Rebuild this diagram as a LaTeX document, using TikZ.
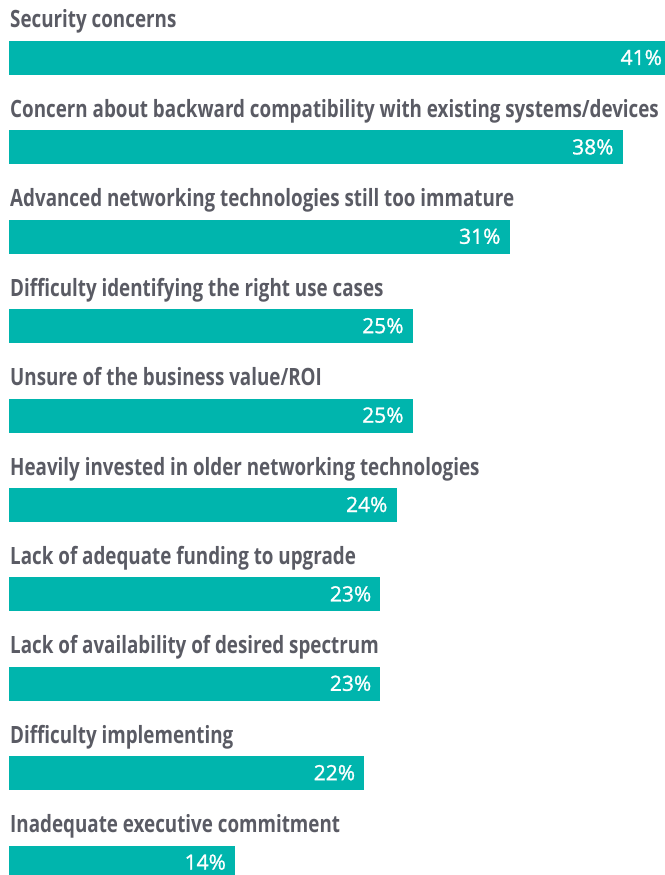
\documentclass[tikz,border=0pt]{standalone}
\usepackage{fontspec}
\setmainfont{Open Sans}
\newfontfamily\labelfont[FakeStretch=0.79]{Open Sans}
\newfontfamily\valuefont[FakeBold=1.2]{Open Sans}
\usetikzlibrary{positioning}
\definecolor{bar_teal}{RGB}{0,181,173}
\definecolor{label_gray}{RGB}{90,91,100}
\tikzset{
	label text/.style={inner sep=0pt, text=label_gray, font=\labelfont\bfseries\fontsize{23.8}{28}\selectfont},
	value text/.style={inner sep=0pt, text=white, font=\valuefont\fontsize{21}{24}\selectfont}
}

\begin{document}
\begin{tikzpicture}[x=1pt,y=-1pt]
		\useasboundingbox (0,0) rectangle (664,875);
		\foreach\v/\t [count=\i from 0] in {41/{Security concerns},
			38/{Concern about backward compatibility with existing systems/devices},
			31/{Advanced networking technologies still too immature},
			25/{Difficulty identifying the right use cases},
			25/{Unsure of the business value/ROI},
			24/{Heavily invested in older networking technologies},
			23/{Lack of adequate funding to upgrade},
			23/{Lack of availability of desired spectrum},
			22/{Difficulty implementing},
			14/{Inadequate executive commitment}}
		{
			\pgfmathsetmacro\ytop{41+89.4*\i}
			\pgfmathsetmacro\xend{9+16.15*\v}
			\coordinate (bar\i) at (9,\ytop);
			\coordinate (end\i) at (\xend,\ytop+34);
			\fill[bar_teal] (bar\i) rectangle (end\i);
			\node[label text, anchor=base west] (label\i) at (10,\ytop-13) {\t};
			\node[value text, anchor=base east] (value\i) at (\xend-9,\ytop+24) {\v\%};
		}
	\end{tikzpicture}
\end{document}
